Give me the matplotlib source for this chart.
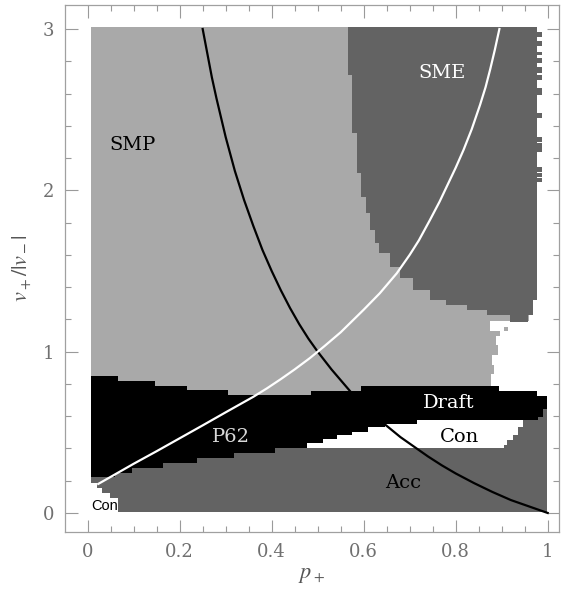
import matplotlib.pyplot as plt
from matplotlib.ticker import MultipleLocator

plt.rcParams['mathtext.fontset'] = 'stix'

LIGHT = '#a9a9a9'
DARK = '#636363'

# SMP (light gray): right edge by v-level, step from each level up to the next
smp_v = [0.72, 0.79, 0.86, 0.92, 0.98, 1.04, 1.10, 1.13, 1.19, 3.01]
smp_right = [0.867, 0.877, 0.884, 0.878, 0.892, 0.888, 0.896, 0.875, 0.96]

# SME (dark gray): left/right edges by v-level
sme_v = [1.186, 1.228, 1.258, 1.29, 1.32, 1.383, 1.455, 1.527, 1.61,
         1.672, 1.754, 1.858, 1.961, 2.106, 2.354, 2.715, 3.01]
sme_left = [0.918, 0.867, 0.824, 0.78, 0.744, 0.708, 0.679, 0.657, 0.634,
            0.624, 0.614, 0.604, 0.595, 0.585, 0.575, 0.566]
sme_right = [0.957, 0.967, 0.967, 0.967, 0.976, 0.976, 0.976, 0.976, 0.976,
             0.976, 0.976, 0.976, 0.976, 0.976, 0.976, 0.976]
# jagged cells sticking out on the right of SME
sme_bump_lo = [2.953, 2.895, 2.839, 2.788, 2.726, 2.684, 2.591, 2.447, 2.302,
               2.240, 2.116, 2.085, 2.054]
sme_bump_hi = [2.984, 2.928, 2.860, 2.819, 2.767, 2.715, 2.633, 2.478, 2.333,
               2.292, 2.147, 2.106, 2.075]

# black band (P62 + Draft): top edge by p
black_p = [0.0065, 0.066, 0.147, 0.216, 0.306, 0.486, 0.595, 0.895, 0.976, 0.998]
black_top = [0.85, 0.82, 0.79, 0.762, 0.731, 0.755, 0.785, 0.757, 0.725]

# Acc (dark gray): top edge by p (= lower edge of the black band)
acc_p = [0.0065, 0.059, 0.0956, 0.164, 0.237, 0.317, 0.407, 0.476, 0.512,
         0.541, 0.574, 0.61, 0.646, 0.715, 0.947, 0.98, 0.99, 0.998]
acc_top = [0.221, 0.246, 0.277, 0.308, 0.339, 0.370, 0.401, 0.432, 0.457,
           0.484, 0.504, 0.531, 0.552, 0.577, 0.577, 0.595, 0.645]
acc_bottom = 0.008

# Con (white) between Acc and Draft
con_p = [0.476, 0.512, 0.541, 0.574, 0.61, 0.646, 0.715, 0.904, 0.911, 0.925,
         0.936, 0.947]
con_top = [0.432, 0.457, 0.484, 0.504, 0.531, 0.552, 0.577, 0.577, 0.577,
           0.577, 0.577]
con_bot = [0.401, 0.401, 0.401, 0.401, 0.401, 0.401, 0.401, 0.422, 0.453,
           0.484, 0.535]

# Con (white) in the lower left corner
con2_p = [0.0065, 0.02, 0.031, 0.048, 0.066]
con2_top = [0.184, 0.153, 0.122, 0.091]

# curves
black_curve_p = [0.25, 0.26, 0.27, 0.28, 0.29, 0.30, 0.32, 0.34, 0.36, 0.38,
                 0.40, 0.42, 0.44, 0.46, 0.48, 0.50, 0.53, 0.56, 0.59, 0.62,
                 0.65, 0.68, 0.71, 0.74, 0.77, 0.80, 0.84, 0.88, 0.92, 0.96, 1.0]
black_curve_v = [3.0, 2.85, 2.70, 2.57, 2.45, 2.33, 2.12, 1.94, 1.78, 1.63,
                 1.50, 1.38, 1.27, 1.17, 1.08, 1.0, 0.89, 0.79, 0.69, 0.61,
                 0.54, 0.47, 0.41, 0.35, 0.295, 0.245, 0.185, 0.13, 0.08,
                 0.04, 0.0]
white_curve_p = [0.023, 0.06, 0.1, 0.15, 0.2, 0.25, 0.3, 0.33, 0.36, 0.39,
                 0.42, 0.45, 0.483, 0.515, 0.55, 0.575, 0.6, 0.635, 0.672, 0.7,
                 0.72, 0.744, 0.765, 0.78, 0.80, 0.817, 0.835, 0.853, 0.865,
                 0.875, 0.885, 0.895]
white_curve_v = [0.18, 0.24, 0.305, 0.383, 0.463, 0.543, 0.624, 0.672, 0.72,
                 0.773, 0.83, 0.89, 0.96, 1.035, 1.12, 1.19, 1.26, 1.362,
                 1.486, 1.6, 1.69, 1.816, 1.93, 2.02, 2.14, 2.25, 2.38, 2.53,
                 2.64, 2.75, 2.87, 3.0]

fig = plt.figure(figsize=(5.61, 5.89), dpi=100)
ax = fig.add_axes([65 / 561, 57 / 589, 494 / 561, 527 / 589])

ax.fill_betweenx(smp_v, 0.0065, smp_right + smp_right[-1:], step='post',
                 color=LIGHT, lw=0)
ax.fill_betweenx(sme_v, sme_left + sme_left[-1:], sme_right + sme_right[-1:],
                 step='post', color=DARK, lw=0)
for lo, hi in zip(sme_bump_lo, sme_bump_hi):
    ax.barh(lo, 0.012, height=hi - lo, left=0.975, align='edge', color=DARK, lw=0)
# stray cell in the white gap
ax.barh(1.125, 0.008, height=0.025, left=0.906, align='edge', color=LIGHT, lw=0)

ax.fill_between(black_p, 0.18, black_top + black_top[-1:], step='post',
                color='black', lw=0)
ax.fill_between(acc_p, acc_bottom, acc_top + acc_top[-1:], step='post',
                color=DARK, lw=0)
ax.fill_between(con_p, con_bot + con_bot[-1:], con_top + con_top[-1:],
                step='post', color='white', lw=0)
ax.fill_between(con2_p, 0.0, con2_top + con2_top[-1:], step='post',
                color='white', lw=0)

ax.plot(black_curve_p, black_curve_v, color='black', lw=1.6)
ax.plot(white_curve_p, white_curve_v, color='white', lw=1.6)

serif = 'DejaVu Serif'
ax.text(0.097, 2.28, 'SMP', family=serif, fontsize=14, color='black',
        ha='center', va='center')
ax.text(0.77, 2.73, 'SME', family=serif, fontsize=14, color='white',
        ha='center', va='center')
ax.text(0.784, 0.68, 'Draft', family=serif, fontsize=14, color='white',
        ha='center', va='center')
ax.text(0.808, 0.469, 'Con', family=serif, fontsize=14, color='black',
        ha='center', va='center')
ax.text(0.686, 0.184, 'Acc', family=serif, fontsize=14, color='black',
        ha='center', va='center')
ax.text(0.3115, 0.473, 'P62', family=serif, fontsize=14, color='#d8d8d8',
        ha='center', va='center')
ax.text(0.0376, 0.043, 'Con', family='Liberation Sans', fontsize=10.5,
        color='black', ha='center', va='center')

ax.set_xlim(-0.0493, 1.0246)
ax.set_ylim(-0.118, 3.149)
ax.xaxis.set_major_locator(MultipleLocator(0.2))
ax.xaxis.set_minor_locator(MultipleLocator(0.05))
ax.yaxis.set_major_locator(MultipleLocator(1))
ax.yaxis.set_minor_locator(MultipleLocator(0.2))
ax.set_xticks([0, 0.2, 0.4, 0.6, 0.8, 1.0], ['0', '0.2', '0.4', '0.6', '0.8', '1'])

ax.tick_params(which='both', direction='in', top=True, right=True,
               color='#9a9a9a', labelcolor='#707070', width=0.8)
ax.tick_params(which='major', length=9, pad=8, labelsize=13)
ax.tick_params(which='minor', length=4.5)
for lab in ax.get_xticklabels() + ax.get_yticklabels():
    lab.set_family(serif)
for sp in ax.spines.values():
    sp.set_color('#a0a0a0')
    sp.set_linewidth(0.9)

ax.set_xlabel(r'$p_+$', fontsize=16, color='#555555', labelpad=3)
ax.set_ylabel(r'$v_+/|v_-|$', fontsize=16, color='#555555', labelpad=6)

fig.savefig('out.png', dpi=100)
